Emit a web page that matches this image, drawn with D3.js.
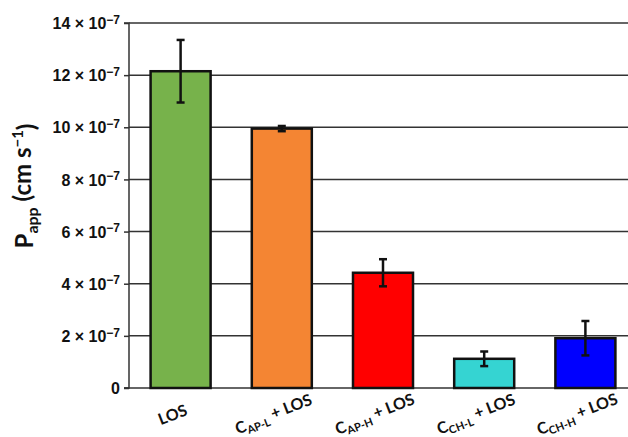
<!DOCTYPE html>
<html>
<head>
<meta charset="utf-8">
<script src="https://cdn.jsdelivr.net/npm/d3@7"></script>
<style>
  html, body { margin: 0; padding: 0; background: #fff; }
  svg { display: block; font-family: Lato, "Open Sans", sans-serif; font-weight: bold; }
</style>
</head>
<body>
<svg id="chart" width="628" height="437"></svg>
<script>
// Apparent permeability (units of 1e-7 cm/s)
const groups = [
  { base: "", sub: "", tail: "LOS" },
  { base: "C", sub: "AP-L", tail: " + LOS" },
  { base: "C", sub: "AP-H", tail: " + LOS" },
  { base: "C", sub: "CH-L", tail: " + LOS" },
  { base: "C", sub: "CH-H", tail: " + LOS" }
];
const means = [12.15, 9.95, 4.42, 1.12, 1.91];
const errors = [1.2, 0.1, 0.52, 0.28, 0.66];
const colors = ["#77b24b", "#f48533", "#ff0000", "#35d4d2", "#0000ff"];
const yTicks = [0, 2, 4, 6, 8, 10, 12, 14];

const svg = d3.select("#chart");
const W = 628;
const y = d3.scaleLinear().domain([0, 14]).range([388, 23]);
const x = d3.scaleBand().domain(d3.range(groups.length)).range([130, 636]).paddingInner(0.407).paddingOuter(0.2035);

// horizontal grid lines
svg.append("g").selectAll("line").data(yTicks.filter(d => d > 0)).join("line")
  .attr("x1", 129).attr("x2", W)
  .attr("y1", d => y(d)).attr("y2", d => y(d))
  .attr("stroke", "#333").attr("stroke-width", 1.5);

// y axis
const yAxis = d3.axisLeft(y).tickValues(yTicks).tickSize(5).tickFormat(() => "");
const gy = svg.append("g").attr("transform", "translate(129,0)").call(yAxis);
gy.select(".domain").attr("stroke", "#333").attr("stroke-width", 1.5).attr("d", `M-5,${y(14)}H0V${y(0)}H-5`);
gy.selectAll(".tick line").attr("stroke", "#333").attr("stroke-width", 1.5);
gy.selectAll(".tick").each(function(d) {
  const t = d3.select(this).append("text")
    .attr("x", -9).attr("dy", "0.35em")
    .attr("text-anchor", "end")
    .attr("fill", "#111")
    .style("font-size", "16px");
  if (d === 0) { t.text("0"); return; }
  t.append("tspan").text(d + " \u00d7 10");
  t.append("tspan").attr("dy", "-0.45em").style("font-size", "12px").text("\u22127");
});

// baseline
svg.append("line").attr("x1", 124).attr("x2", W).attr("y1", y(0)).attr("y2", y(0))
  .attr("stroke", "#333").attr("stroke-width", 1.5);

// bars
svg.append("g").selectAll("rect").data(means).join("rect")
  .attr("x", (d, i) => x(i)).attr("width", x.bandwidth())
  .attr("y", d => y(d)).attr("height", d => y(0) - y(d))
  .attr("fill", (d, i) => colors[i])
  .attr("stroke", "#111").attr("stroke-width", 2.5);

// error bars
const eb = svg.append("g").attr("stroke", "#111").attr("stroke-width", 2.5);
means.forEach((m, i) => {
  const cx = x(i) + x.bandwidth() / 2;
  const hi = y(m + errors[i]), lo = y(m - errors[i]);
  eb.append("line").attr("x1", cx).attr("x2", cx).attr("y1", hi).attr("y2", lo);
  eb.append("line").attr("x1", cx - 4).attr("x2", cx + 4).attr("y1", hi).attr("y2", hi);
  eb.append("line").attr("x1", cx - 4).attr("x2", cx + 4).attr("y1", lo).attr("y2", lo);
});

// category labels
groups.forEach((g, i) => {
  const cx = x(i) + x.bandwidth() / 2 - 6;
  const t = svg.append("text")
    .attr("transform", `translate(${cx},${420}) rotate(-21)`)
    .attr("text-anchor", "middle")
    .attr("fill", "#111")
    .style("font-size", "16px");
  if (g.base) {
    t.append("tspan").text(g.base);
    t.append("tspan").attr("dy", "0.3em").style("font-size", "11px").text(g.sub);
    t.append("tspan").attr("dy", "-0.3em").text(g.tail);
  } else {
    t.text(g.tail);
  }
});

// y axis title
const yt = svg.append("text")
  .attr("transform", `translate(33,186) rotate(-90)`)
  .attr("text-anchor", "middle")
  .attr("fill", "#111")
  .style("font-size", "24px");
yt.append("tspan").text("P");
yt.append("tspan").attr("dy", "0.3em").style("font-size", "16px").text("app");
yt.append("tspan").attr("dy", "-0.3em").text(" (cm s");
yt.append("tspan").attr("dy", "-0.5em").style("font-size", "15px").text("\u22121");
yt.append("tspan").attr("dy", "0.5em").text(")");
</script>
</body>
</html>
